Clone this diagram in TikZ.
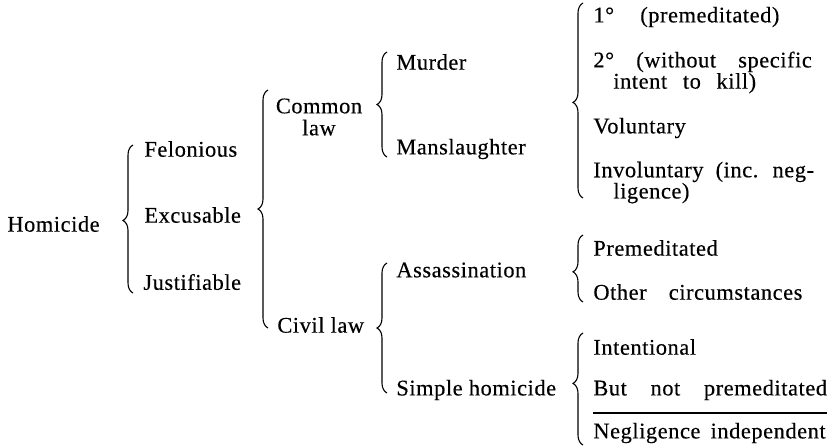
\documentclass[tikz,border=0pt]{standalone}
\usepackage{fontspec}
\setmainfont{Liberation Serif}[LetterSpace=2.5,FakeBold=0.3]
\usetikzlibrary{decorations.pathreplacing}
\begin{document}
\begin{tikzpicture}[x=0.5pt,y=-0.5pt,
  lbl/.style={anchor=west,inner sep=0pt,font=\fontsize{11.2}{10.6}\selectfont,align=left},
  brc/.style={draw,line width=0.55pt,decorate,decoration={brace,amplitude=5pt,aspect=#1}},
  brc/.default=0.5,
  rule/.style={line width=0.7pt}]
\fill[white] (0,0) rectangle (833,447);
\useasboundingbox (0,0) rectangle (833,447);
% level 0
\node[lbl] (hom) at (7,224) {Homicide};
% level 1
\node[lbl] (fel) at (144,149) {Felonious};
\node[lbl] (exc) at (144,215) {Excusable};
\node[lbl] (jus) at (143,282) {Justifiable};
% level 2
\node[lbl,anchor=center,align=center,font=\fontsize{11.2}{11}\selectfont] (com) at (319,117) {Common\\law};
\node[lbl] (civ) at (277,325) {Civil law};
% level 3
\node[lbl] (mur) at (396,62) {Murder};
\node[lbl] (man) at (396,149) {Manslaughter};
\node[lbl] (ass) at (396,270) {Assassination};
\node[lbl] (sim) at (396,390) {Simple homicide};
% level 4
\node[lbl] (m1) at (593,17) {1°\hspace{10pt} (premeditated)};
\node[lbl] (m2) at (593,72.5) {2°\hspace{8pt} (without\hspace{8pt} specific\\\hspace*{10pt}intent\hspace{4.75pt} to\hspace{4.75pt} kill)};
\node[lbl] (vol) at (593,128) {Voluntary};
\node[lbl] (inv) at (593,182.5) {Involuntary\hspace{3pt} (inc.\hspace{3pt} neg-\\\hspace*{10pt}ligence)};
\node[lbl] (pre) at (593,248) {Premeditated};
\node[lbl] (oth) at (593,292) {Other\hspace{8pt} circumstances};
\node[lbl] (int) at (593,347) {Intentional};
\node[lbl] (bnp) at (593,390) {But\hspace{8.75pt} not\hspace{8.75pt} premeditated};
\node[lbl] (neg) at (593,433) {Negligence\hspace{2pt} independent};
% brace end points
\coordinate (b1a) at (133,293); \coordinate (b1b) at (133,145);
\coordinate (b2a) at (268,328); \coordinate (b2b) at (268,90);
\coordinate (b3a) at (387,157); \coordinate (b3b) at (387,52);
\coordinate (b4a) at (387,393); \coordinate (b4b) at (387,263);
\coordinate (b5a) at (583,198); \coordinate (b5b) at (583,3);
\coordinate (b6a) at (583,302); \coordinate (b6b) at (583,235);
\coordinate (b7a) at (583,445); \coordinate (b7b) at (583,333);
\coordinate (r1) at (593,413); \coordinate (r2) at (827,413);
% braces
\path[brc=0.49] (b1a) -- (b1b);
\path[brc=0.5] (b2a) -- (b2b);
\path[brc=0.5] (b3a) -- (b3b);
\path[brc=0.5] (b4a) -- (b4b);
\path[brc=0.49] (b5a) -- (b5b);
\path[brc=0.45] (b6a) -- (b6b);
\path[brc=0.55] (b7a) -- (b7b);
% rule
\draw[rule] (r1) -- (r2);
\end{tikzpicture}
\end{document}
